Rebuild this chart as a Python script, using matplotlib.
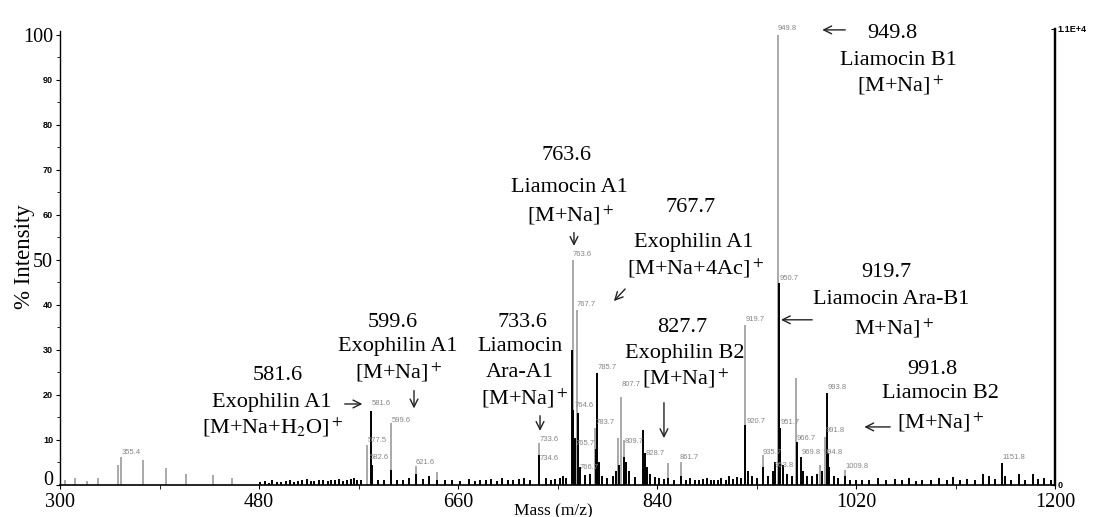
import matplotlib
matplotlib.use('Agg')
import matplotlib.pyplot as plt

SERIF = 'Liberation Serif'
SANS = 'Liberation Sans'
GRAY = '#a9a9a9'
LABEL_GRAY = '#858585'

plt.rcParams['font.family'] = SERIF
plt.rcParams['mathtext.fontset'] = 'stix'

# Peaks drawn in light gray (mass, % intensity)
gray_mass = [304.5, 313.6, 324, 334, 352.2, 355.4, 375.5, 396, 414, 438, 456,
             577.5, 599.6, 621.6, 641, 733.6, 763.6, 767.7, 783.7, 805, 807.7,
             810, 849.6, 861.7, 919.7, 935.7, 949.8, 965.7, 987.5, 991.8, 1009.8]
gray_int = [1.2, 1.5, 0.8, 1.5, 4.4, 6.3, 5.6, 3.8, 2.5, 2.3, 1.5,
            8.9, 13.7, 4.2, 2.9, 9.3, 50.0, 38.8, 12.7, 10.4, 19.6,
            10.0, 4.9, 5.1, 35.6, 6.7, 100.0, 23.8, 4.4, 10.7, 3.3]

# Peaks drawn in black (mass, % intensity)
black_mass = [481, 485, 489, 492, 496, 500, 504, 508, 512, 515, 519, 523, 527,
              530, 534, 538, 542, 545, 549, 552, 556, 560, 563, 566, 569, 572,
              581.6, 582.6, 588, 593, 599.6, 605, 610, 616, 621.6, 628, 634, 641,
              648, 655, 662, 670, 675, 680, 685, 690, 695, 700, 705, 710, 715,
              720, 725, 733.6, 740, 744, 748, 752, 755, 758, 763.0, 764.4, 766.0,
              768.3, 770.5, 775, 779, 784.5, 785.7, 787.5, 790, 795, 800, 803,
              806, 809.7, 812, 815, 820, 827.7, 828.7, 831, 834, 838, 842, 846,
              850, 855, 861.7, 866, 870, 874, 878, 882, 885, 889, 892, 895, 898,
              902, 905, 909, 912, 916, 919.7, 922, 926, 930, 935.7, 940, 945, 947,
              950.7, 951.7, 953.8, 958, 962, 966.7, 969.8, 972, 976, 980, 985,
              989, 993.8, 994.8, 996, 1000, 1004, 1009.8, 1015, 1020, 1025, 1032,
              1040, 1047, 1055, 1062, 1068, 1074, 1080, 1088, 1095, 1102, 1108,
              1114, 1120, 1128, 1135, 1140, 1146, 1151.8, 1155, 1160, 1167, 1173,
              1180, 1185, 1190, 1196]
black_int = [0.6, 0.8, 0.5, 1.0, 0.6, 0.7, 0.9, 1.1, 0.7, 0.8, 1.0, 1.3, 0.8,
             0.9, 1.1, 1.2, 0.8, 1.0, 1.2, 1.4, 0.9, 1.1, 1.3, 1.6, 1.0, 1.2,
             16.5, 4.5, 1.2, 1.0, 3.3, 1.0, 1.2, 1.5, 2.5, 1.3, 2.0, 1.2,
             1.0, 1.2, 0.9, 1.3, 0.8, 1.0, 1.1, 1.4, 0.9, 1.5, 1.0, 1.2, 1.3,
             1.6, 1.1, 6.7, 1.5, 1.2, 1.3, 1.6, 2.0, 1.5, 30.0, 16.7, 10.4,
             16.0, 4.0, 2.2, 2.5, 8.0, 24.9, 5.0, 2.0, 1.5, 2.0, 3.0,
             4.5, 6.2, 5.0, 3.0, 1.8, 12.2, 7.0, 4.0, 2.5, 1.8, 1.5, 1.3,
             1.5, 1.2, 2.0, 1.1, 1.5, 1.0, 1.2, 1.3, 1.6, 1.0, 1.2, 1.1, 1.5,
             1.2, 2.0, 1.4, 1.8, 1.5, 13.3, 3.0, 2.0, 1.5, 4.0, 2.0, 3.0, 5.0,
             44.9, 12.7, 4.4, 2.5, 2.0, 9.6, 6.2, 3.0, 2.0, 2.0, 2.5,
             3.0, 20.4, 7.0, 4.0, 2.0, 1.6, 2.0, 1.2, 1.0, 1.2, 1.0,
             1.5, 1.1, 1.3, 1.0, 1.6, 0.9, 1.2, 1.1, 1.5, 1.2, 1.8,
             1.0, 1.4, 1.2, 2.5, 2.0, 1.3, 4.9, 2.0, 1.2, 2.5, 1.1,
             2.5, 1.3, 1.5, 1.2]

# Small gray m/z labels printed by the instrument
peak_labels = ['355.4', '581.6', '599.6', '577.5', '582.6', '621.6', '733.6',
               '734.6', '763.6', '767.7', '785.7', '764.6', '783.7', '765.7',
               '807.7', '809.7', '828.7', '766.7', '861.7', '919.7', '950.7',
               '920.7', '951.7', '966.7', '935.7', '969.8', '994.8', '953.8',
               '993.8', '991.8', '1009.8', '1151.8', '949.8']
peak_label_pos = [(356, 7.3), (582, 18.2), (600, 14.4), (578.6, 9.8), (580.4, 6.2),
                  (622, 5.1), (734.2, 10.2), (734.2, 5.8), (764, 51.1), (767.6, 40),
                  (786.6, 26), (765.8, 17.6), (784.8, 13.8), (766.7, 9.3),
                  (808.3, 22.4), (811, 9.6), (830, 7.1), (770.3, 3.8), (860.8, 6.2),
                  (920.5, 36.7), (951.2, 45.8), (921.4, 14), (952.1, 13.8),
                  (966.6, 10.4), (935.9, 7.3), (971.1, 7.3), (991, 7.3),
                  (946.7, 4.4), (994.7, 21.6), (992.9, 12.2), (1010.9, 4.2),
                  (1152.9, 6), (949.4, 101.3)]

# Compound annotations: lines of text, text centre positions, arrow (start, end)
annotations = [
    (['581.6', 'Exophilin A1', '[M+Na+H$_2$O]$^+$'],
     [(496.7, 24.4), (491.5, 18.4), (492.7, 12.9)], ((555, 18), (576, 18))),
    (['599.6', 'Exophilin A1', '[M+Na]$^+$'],
     [(600.7, 36), (605.7, 30.7), (606.6, 25.1)], ((620.2, 21.6), (620.2, 16.4))),
    (['733.6', 'Liamocin', 'Ara-A1', '[M+Na]$^+$'],
     [(717.9, 36.2), (716.1, 30.7), (716.1, 25.1), (720.6, 19.3)],
     ((734.2, 16), (734.2, 11.4))),
    (['763.6', 'Liamocin A1', '[M+Na]$^+$'],
     [(757.7, 73.3), (760.4, 66), (762.2, 60)], ((764.9, 56.7), (764.9, 52.5))),
    (['767.7', 'Exophilin A1', '[M+Na+4Ac]$^+$'],
     [(870.7, 61.6), (873.5, 53.8), (875.3, 48.2)], ((812.9, 44), (799.3, 40.4))),
    (['827.7', 'Exophilin B2', '[M+Na]$^+$'],
     [(862.6, 34.9), (865.3, 29.3), (866.2, 23.8)], ((846.3, 18.9), (846.3, 9.8))),
    (['949.8', 'Liamocin B1', '[M+Na]$^+$'],
     [(1053, 100.4), (1058, 94.4), (1060.7, 88.9)], ((1012.8, 101.1), (987, 101.1))),
    (['919.7', 'Liamocin Ara-B1', 'M+Na]$^+$'],
     [(1047.1, 47.3), (1051.6, 41.1), (1054.4, 34.9)], ((982.9, 36.7), (949.6, 36.7))),
    (['991.8', 'Liamocin B2', '[M+Na]$^+$'],
     [(1088.7, 25.6), (1096, 20.4), (1096.9, 14)], ((1053.5, 12.9), (1025, 12.9))),
]

x_ticks = [300, 480, 660, 840, 1020, 1200]
y_ticks = [0, 10, 20, 30, 40, 50, 60, 70, 80, 90, 100]
Y_TOP = 101.3

fig = plt.figure(figsize=(10.98, 5.17), dpi=100)
ax = fig.add_axes([60 / 1098, 32 / 517, 995 / 1098, 456 / 517])

# Spectrum sticks
ax.vlines(gray_mass, 0, gray_int, colors=GRAY, linewidth=1.4)
ax.vlines(black_mass, 0, black_int, colors='black', linewidth=1.4)

ax.set_xlim(300, 1200)
ax.set_ylim(0, Y_TOP)

# Axes style
ax.spines['top'].set_visible(False)
ax.spines['left'].set_bounds(0, 100.8)
ax.spines['right'].set_linewidth(1.6)
ax.spines['left'].set_linewidth(1.0)
ax.spines['bottom'].set_linewidth(1.2)

ax.set_xticks(x_ticks)
ax.set_xticks(range(390, 1200, 180), minor=True)
ax.set_xticklabels([str(t) for t in x_ticks], fontsize=14.5, family=SERIF)
ax.tick_params(axis='x', which='both', length=3, pad=3)

ax.set_yticks(y_ticks)
ax.set_yticks(range(5, 100, 10), minor=True)
ax.set_yticklabels([str(t) for t in y_ticks])
ax.tick_params(axis='y', which='major', length=3, pad=2)
ax.tick_params(axis='y', which='minor', length=2)
for lab, t in zip(ax.get_yticklabels(), y_ticks):
    if t in (0, 50, 100):
        lab.set_fontfamily(SERIF)
        lab.set_fontsize(14.5)
    else:
        lab.set_fontfamily(SANS)
        lab.set_fontsize(6.5)
        lab.set_fontweight('bold')
    if t == 0:
        lab.set_va('baseline')

ax.set_ylabel('% Intensity', fontsize=16.5)
ax.yaxis.set_label_coords(-0.025, 0.5)
fig.text(553 / 1098, 1 - 511 / 517, 'Mass (m/z)', fontsize=12.5,
         ha='center', va='center', family=SERIF)

# Right-hand absolute intensity axis
ax2 = ax.twinx()
ax2.set_ylim(0, Y_TOP)
ax2.set_yticks([0, Y_TOP])
ax2.set_yticklabels(['0', '1.1E+4'], fontsize=6.5, fontweight='bold', family=SANS)
ax2.tick_params(axis='y', direction='in', length=3, pad=2)
for s in ['top', 'left', 'bottom']:
    ax2.spines[s].set_visible(False)
ax2.spines['right'].set_linewidth(1.6)

# Instrument peak labels
for txt, (mx, my) in zip(peak_labels, peak_label_pos):
    ax.text(mx, my, txt, fontsize=5.5, color=LABEL_GRAY, family=SANS,
            ha='left', va='center')

# Compound annotations
for lines, pos, (start, end) in annotations:
    for line, (tx, ty) in zip(lines, pos):
        ax.text(tx, ty, line, fontsize=16, ha='center', va='center', family=SERIF)
    ax.annotate('', xy=end, xytext=start,
                arrowprops=dict(arrowstyle='->', color='#222222', lw=1.0,
                                mutation_scale=14))

fig.savefig('out.png', dpi=100, facecolor='white')
